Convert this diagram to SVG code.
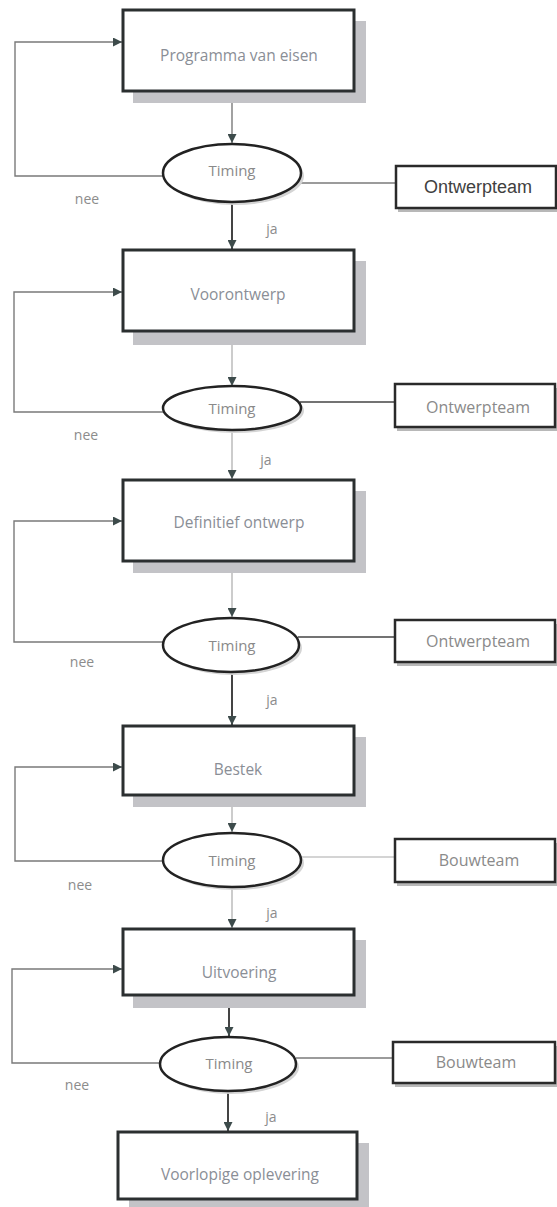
<svg xmlns="http://www.w3.org/2000/svg" width="557" height="1207" viewBox="0 0 557 1207">
<defs>
<marker id="ah" viewBox="0 0 10 10" refX="10" refY="5" markerWidth="9" markerHeight="9" markerUnits="userSpaceOnUse" orient="auto">
<path d="M0,0 L10,5 L0,10 z" fill="#3d4b4b"/>
</marker>
<style>
.box{fill:#fff;stroke:#2b2f30;stroke-width:3}
.shadow{fill:#c3c3c7}
.eshadow{fill:#d4d4d4}
.ell{fill:#fff;stroke:#222;stroke-width:2.5}
.team{fill:#fff;stroke:#2a2a2a;stroke-width:2.5}
.tshadow{fill:#b8b8b8}
.lbl{font-family:"Open Sans","Liberation Sans",sans-serif;font-size:15.5px;fill:#8a8e96;text-anchor:middle}
.tim{font-family:"Open Sans","Liberation Sans",sans-serif;font-size:15px;fill:#8a8a8a;text-anchor:middle}
.tlbl{font-family:"Open Sans","Liberation Sans",sans-serif;font-size:16px;fill:#8a8a8a;text-anchor:middle}
.team1{font-family:"Liberation Sans",Arial,sans-serif;font-size:18px;fill:#404040;text-anchor:middle}
.note{font-family:"Open Sans","Liberation Sans",sans-serif;font-size:14px;fill:#8c8c8c;text-anchor:middle}
.cdark{fill:none;stroke:#444;stroke-width:2}
.cmid{fill:none;stroke:#7a7a7a;stroke-width:1.4}
.clight{fill:none;stroke:#aaa;stroke-width:1.2}
</style>
</defs>
<rect width="557" height="1207" fill="#fff"/>

<g id="connectors">
<line class="cmid" x1="232" y1="92" x2="232" y2="143" marker-end="url(#ah)"/>
<line class="cdark" x1="232" y1="203" x2="232" y2="249" marker-end="url(#ah)"/>
<polyline class="cmid" points="163,176 15,176 15,42 122,42" marker-end="url(#ah)"/>
<line class="cmid" x1="300" y1="183" x2="396" y2="183"/>
<line class="clight" x1="232" y1="332" x2="232" y2="386" marker-end="url(#ah)"/>
<line class="clight" x1="232" y1="431" x2="232" y2="479" marker-end="url(#ah)"/>
<polyline class="cmid" points="164,412 14,412 14,292 122,292" marker-end="url(#ah)"/>
<line class="cdark" x1="300" y1="402" x2="395" y2="402" style="stroke-width:1.5"/>
<line class="clight" x1="232" y1="562" x2="232" y2="617" marker-end="url(#ah)"/>
<line class="cdark" x1="232" y1="673" x2="232" y2="725" marker-end="url(#ah)"/>
<polyline class="cmid" points="164,642 14,642 14,521 122,521" marker-end="url(#ah)"/>
<line class="cdark" x1="298" y1="637" x2="395" y2="637" style="stroke-width:1.5"/>
<line class="clight" x1="232" y1="796" x2="232" y2="832" marker-end="url(#ah)"/>
<line class="clight" x1="232" y1="888" x2="232" y2="928" marker-end="url(#ah)"/>
<polyline class="cmid" points="164,861 15,861 15,767 122,767" marker-end="url(#ah)"/>
<line class="clight" x1="300" y1="857" x2="395" y2="857"/>
<line class="cdark" x1="229" y1="996" x2="229" y2="1036" marker-end="url(#ah)"/>
<line class="cdark" x1="228" y1="1092" x2="228" y2="1131" marker-end="url(#ah)"/>
<polyline class="cmid" points="161,1063 12,1063 12,969 122,969" marker-end="url(#ah)"/>
<line class="cmid" x1="296" y1="1058" x2="393" y2="1058"/>
</g>

<g id="labels">
<text class="note" x="87" y="204">nee</text>
<text class="note" x="272" y="234">ja</text>
<text class="note" x="86" y="440">nee</text>
<text class="note" x="266" y="465">ja</text>
<text class="note" x="82" y="667">nee</text>
<text class="note" x="272" y="705">ja</text>
<text class="note" x="80" y="890">nee</text>
<text class="note" x="272" y="918">ja</text>
<text class="note" x="77" y="1090">nee</text>
<text class="note" x="271" y="1122">ja</text>
</g>

<g id="n1">
<rect class="shadow" x="133" y="21" width="233" height="82"/>
<rect class="box" x="123" y="10" width="231" height="81"/>
<text class="lbl" x="239" y="61">Programma van eisen</text>
</g>
<g id="d1">
<ellipse class="eshadow" cx="235" cy="176" rx="69" ry="29"/>
<ellipse class="ell" cx="232" cy="173" rx="69" ry="29"/>
<text class="tim" x="232" y="176">Timing</text>
</g>
<g id="t1">
<rect class="tshadow" x="398" y="170" width="162" height="42"/>
<rect class="team" x="396" y="166" width="160" height="42"/>
<text class="team1" x="478" y="193">Ontwerpteam</text>
</g>

<g id="n2">
<rect class="shadow" x="133" y="261" width="233" height="84"/>
<rect class="box" x="123" y="250" width="231" height="81"/>
<text class="lbl" x="238" y="300">Voorontwerp</text>
</g>
<g id="d2">
<ellipse class="eshadow" cx="235" cy="411" rx="69" ry="22"/>
<ellipse class="ell" cx="232" cy="408" rx="69" ry="22"/>
<text class="tim" x="232" y="414">Timing</text>
</g>
<g id="t2">
<rect class="tshadow" x="397" y="388" width="162" height="43"/>
<rect class="team" x="395" y="384" width="160" height="43"/>
<text class="tlbl" x="478" y="413">Ontwerpteam</text>
</g>

<g id="n3">
<rect class="shadow" x="133" y="491" width="233" height="82"/>
<rect class="box" x="123" y="480" width="231" height="81"/>
<text class="lbl" x="239" y="528">Definitief ontwerp</text>
</g>
<g id="d3">
<ellipse class="eshadow" cx="234" cy="648" rx="68" ry="27"/>
<ellipse class="ell" cx="231" cy="645" rx="68" ry="27"/>
<text class="tim" x="232" y="651">Timing</text>
</g>
<g id="t3">
<rect class="tshadow" x="397" y="624" width="162" height="42"/>
<rect class="team" x="395" y="620" width="160" height="42"/>
<text class="tlbl" x="478" y="647">Ontwerpteam</text>
</g>

<g id="n4">
<rect class="shadow" x="133" y="737" width="233" height="70"/>
<rect class="box" x="123" y="726" width="231" height="69"/>
<text class="lbl" x="238" y="775">Bestek</text>
</g>
<g id="d4">
<ellipse class="eshadow" cx="235" cy="863" rx="69" ry="27"/>
<ellipse class="ell" cx="232" cy="860" rx="69" ry="27"/>
<text class="tim" x="232" y="866">Timing</text>
</g>
<g id="t4">
<rect class="tshadow" x="397" y="843" width="162" height="43"/>
<rect class="team" x="395" y="839" width="160" height="43"/>
<text class="tlbl" x="479" y="866">Bouwteam</text>
</g>

<g id="n5">
<rect class="shadow" x="133" y="940" width="233" height="68"/>
<rect class="box" x="123" y="929" width="231" height="66"/>
<text class="lbl" x="239" y="978">Uitvoering</text>
</g>
<g id="d5">
<ellipse class="eshadow" cx="231" cy="1067" rx="68" ry="27"/>
<ellipse class="ell" cx="228" cy="1064" rx="68" ry="27"/>
<text class="tim" x="229" y="1069">Timing</text>
</g>
<g id="t5">
<rect class="tshadow" x="395" y="1046" width="164" height="41"/>
<rect class="team" x="393" y="1042" width="162" height="41"/>
<text class="tlbl" x="476" y="1068">Bouwteam</text>
</g>

<g id="n6">
<rect class="shadow" x="129" y="1143" width="240" height="68"/>
<rect class="box" x="118" y="1132" width="239" height="67"/>
<text class="lbl" x="240" y="1180">Voorlopige oplevering</text>
</g>
</svg>
